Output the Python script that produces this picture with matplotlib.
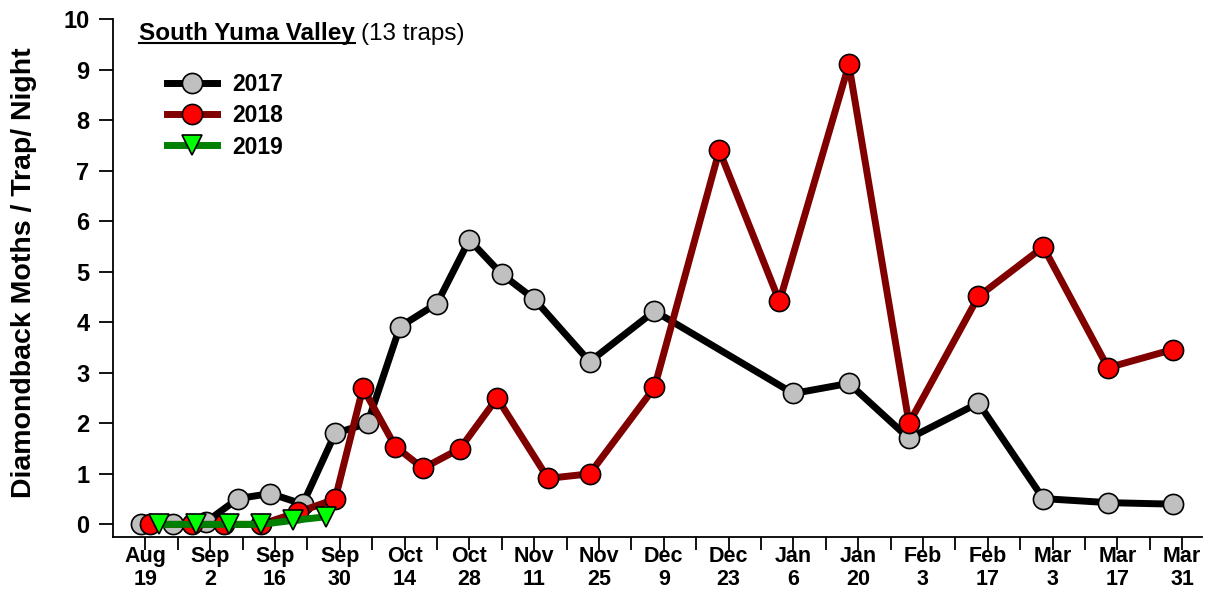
import matplotlib
matplotlib.use("Agg")
import matplotlib.pyplot as plt
from matplotlib.lines import Line2D
from matplotlib.ticker import MultipleLocator, FixedLocator

plt.rcParams['font.family'] = ['Liberation Sans', 'DejaVu Sans']

# x values are days after Aug 19
tick_labels = ["Aug\n19", "Sep\n2", "Sep\n16", "Sep\n30", "Oct\n14", "Oct\n28", "Nov\n11",
               "Nov\n25", "Dec\n9", "Dec\n23", "Jan\n6", "Jan\n20", "Feb\n3", "Feb\n17",
               "Mar\n3", "Mar\n17", "Mar\n31"]

days_2017 = [-1, 6, 13, 20, 27, 34, 41, 48, 55, 63, 70, 77, 84, 96, 110, 140, 152, 165, 180, 194, 208, 222]
vals_2017 = [0.0, 0.0, 0.04, 0.51, 0.61, 0.40, 1.80, 2.00, 3.91, 4.37, 5.63, 4.95, 4.46, 3.22, 4.22,
             2.59, 2.79, 1.70, 2.40, 0.51, 0.43, 0.40]

days_2018 = [1, 10, 17, 25, 33, 41, 47, 54, 60, 68, 76, 87, 96, 110, 124, 137, 152, 165, 180, 194, 208, 222]
vals_2018 = [0.0, 0.0, 0.0, 0.0, 0.24, 0.50, 2.70, 1.54, 1.11, 1.50, 2.50, 0.91, 1.00, 2.71, 7.40,
             4.41, 9.10, 2.00, 4.51, 5.49, 3.10, 3.46]

days_2019 = [3, 11, 18, 25, 32, 39]
vals_2019 = [0.0, 0.0, 0.0, 0.0, 0.08, 0.15]

W, H = 1206, 589
fig = plt.figure(figsize=(W / 100, H / 100), dpi=100)
ax = fig.add_axes([113 / W, 1 - 537 / H, (1202 - 113) / W, (537 - 19) / H])

ms = 14.5
ax.plot(days_2017, vals_2017, '-o', color='black', lw=5, ms=ms, mfc='#C0C0C0', mec='black',
        mew=1.2, label='2017', zorder=3)
ax.plot(days_2018, vals_2018, '-o', color='#800000', lw=5, ms=ms, mfc='#FF0000', mec='black',
        mew=1.2, label='2018', zorder=4)
ax.plot(days_2019, vals_2019, '-v', color='#008000', lw=5, ms=ms, mfc='#00FF00', mec='black',
        mew=1.2, label='2019', zorder=5)

ax.set_xlim(-7, 228.3)
ax.set_ylim(-0.25, 10)

major = [14 * i for i in range(len(tick_labels))]
ax.xaxis.set_major_locator(FixedLocator(major))
ax.set_xticklabels(tick_labels, fontsize=15.5, fontweight='bold', linespacing=1.12)
ax.xaxis.set_minor_locator(FixedLocator([7 + 14 * i for i in range(len(tick_labels) - 1)]))
ax.tick_params(axis='x', which='both', direction='out', length=9, width=1.3, pad=-2.5)

ax.yaxis.set_major_locator(MultipleLocator(1))
ax.tick_params(axis='y', direction='out', length=10, width=1.3, pad=7, labelsize=17)
for lab in ax.get_yticklabels():
    lab.set_fontweight('bold')

for s in ['top', 'right']:
    ax.spines[s].set_visible(False)
ax.spines['left'].set_linewidth(1.3)
ax.spines['bottom'].set_linewidth(1.3)

ax.set_ylabel('Diamondback Moths / Trap/ Night', fontsize=20.5, fontweight='bold')
ax.yaxis.set_label_coords((37 - 113) / (1202 - 113), 0.51)

leg = ax.legend(loc='upper left', bbox_to_anchor=(167 / W, 1 - 73 / H), bbox_transform=fig.transFigure,
                frameon=False, prop={'size': 16.5, 'weight': 'bold'}, handlelength=2.2,
                handletextpad=0.65, labelspacing=0.36, borderpad=0, borderaxespad=0)

# Title with underline
t1 = fig.text(139 / W, 1 - 40 / H, 'South Yuma Valley', fontsize=17.5, fontweight='bold',
              va='baseline', ha='left')
fig.canvas.draw()
bb = t1.get_window_extent()
fig.add_artist(Line2D([bb.x0 / W, bb.x1 / W], [(H - 43) / H, (H - 43) / H], color='black',
                      lw=1.5, transform=fig.transFigure))
fig.text(bb.x1 / W + 6 / W, 1 - 40 / H, '(13 traps)', fontsize=17.5, va='baseline', ha='left')

fig.savefig('out.png', dpi=100)
